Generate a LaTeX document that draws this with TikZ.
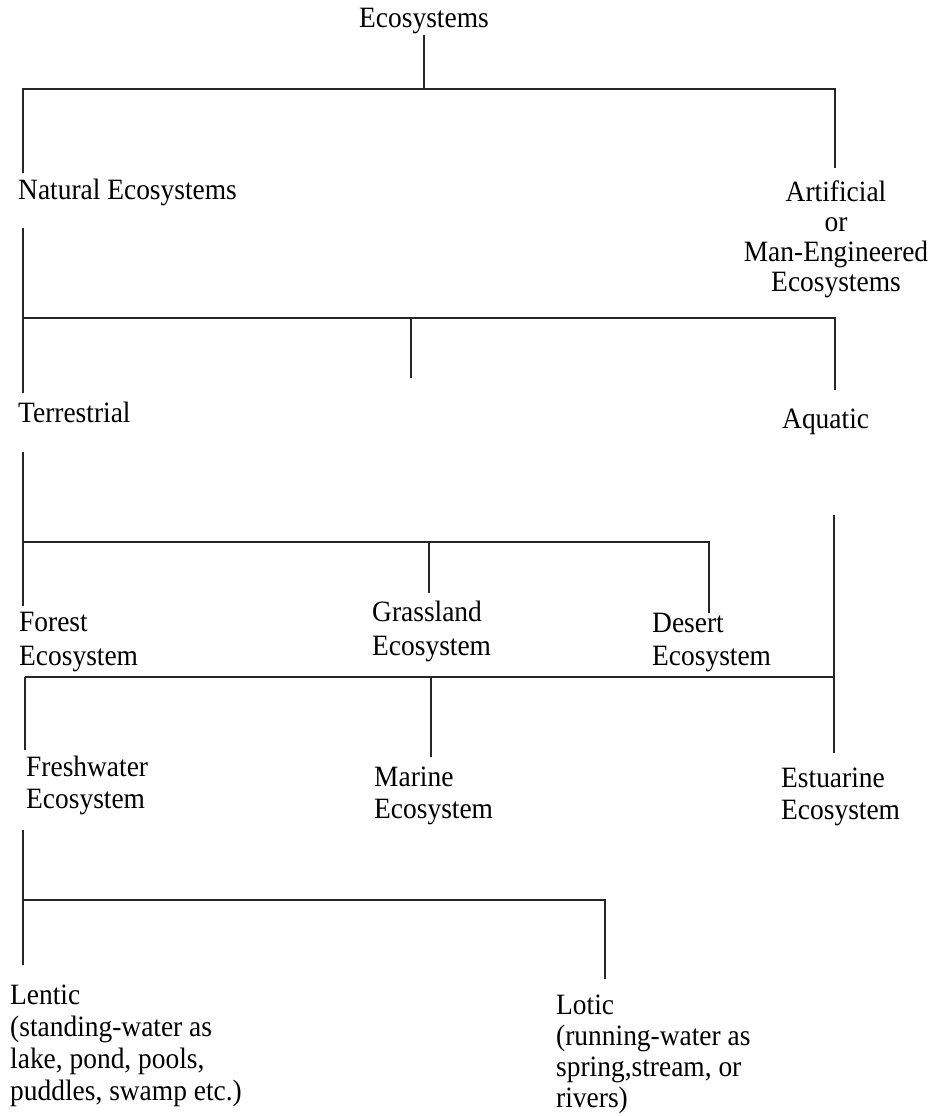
\documentclass[tikz,border=0pt]{standalone}
\usepackage{fontspec}
\setmainfont{Liberation Serif}[FakeStretch=0.93]
\begin{document}
\begin{tikzpicture}[x=1pt,y=-1pt,
  lbl/.style={inner sep=0pt, font=\fontsize{29.5}{#1}\selectfont},
  lbl/.default=31,
  wire/.style={line width=1.3pt, black!85}]
\useasboundingbox (0,0) rectangle (933,1116);

% ---- labels ----
\node[lbl, anchor=base] (eco) at (424,28) {Ecosystems};
\node[lbl, anchor=base west] (nat) at (18,199) {Natural Ecosystems};
\node[lbl=30, anchor=base] (art) at (836,201)
  {\begin{tabular}[t]{@{}c@{}}Artificial\\or\\Man-Engineered\\Ecosystems\end{tabular}};
\node[lbl, anchor=base west] (ter) at (18,422) {Terrestrial};
\node[lbl, anchor=base west] (aqu) at (782,428) {Aquatic};
\node[lbl=34, anchor=base west] (for) at (19,631)
  {\begin{tabular}[t]{@{}l@{}}Forest\\Ecosystem\end{tabular}};
\node[lbl=34, anchor=base west] (gra) at (372,621)
  {\begin{tabular}[t]{@{}l@{}}Grassland\\Ecosystem\end{tabular}};
\node[lbl=33, anchor=base west] (des) at (652,632)
  {\begin{tabular}[t]{@{}l@{}}Desert\\Ecosystem\end{tabular}};
\node[lbl=32, anchor=base west] (fre) at (26,776)
  {\begin{tabular}[t]{@{}l@{}}Freshwater\\Ecosystem\end{tabular}};
\node[lbl=32, anchor=base west] (mar) at (374,786)
  {\begin{tabular}[t]{@{}l@{}}Marine\\Ecosystem\end{tabular}};
\node[lbl=32, anchor=base west] (est) at (781,787)
  {\begin{tabular}[t]{@{}l@{}}Estuarine\\Ecosystem\end{tabular}};
\node[lbl=32, anchor=base west] (len) at (10,1004)
  {\begin{tabular}[t]{@{}l@{}}Lentic\\(standing-water as\\lake, pond, pools,\\puddles, swamp etc.)\end{tabular}};
\node[lbl=31, anchor=base west] (lot) at (556,1014)
  {\begin{tabular}[t]{@{}l@{}}Lotic\\(running-water as\\spring,stream, or\\rivers)\end{tabular}};

% ---- junction and end points of the tree lines ----
\coordinate (h1m) at (424,89);
\coordinate (h1l) at (23,89);
\coordinate (h1r) at (835,89);
\coordinate (natTop) at (23,173);
\coordinate (artTop) at (835,168);
\coordinate (natBot) at (23,228);
\coordinate (terTop) at (23,393);
\coordinate (h2l) at (23,318);
\coordinate (h2m) at (411,318);
\coordinate (h2r) at (835,318);
\coordinate (midEnd) at (411,378);
\coordinate (aqTop) at (835,390);
\coordinate (terBot) at (23,452);
\coordinate (forTop) at (23,606);
\coordinate (h3l) at (23,542);
\coordinate (h3m) at (429,542);
\coordinate (h3r) at (709,542);
\coordinate (graTop) at (429,593);
\coordinate (desTop) at (709,613);
\coordinate (aqBot) at (834,515);
\coordinate (estTop) at (834,753);
\coordinate (h4l) at (25,677);
\coordinate (h4m) at (431,677);
\coordinate (h4r) at (834,677);
\coordinate (fwTop) at (25,750);
\coordinate (marTop) at (431,757);
\coordinate (fwBot) at (23,830);
\coordinate (lenTop) at (23,965);
\coordinate (h5l) at (23,900);
\coordinate (h5r) at (605,900);
\coordinate (lotTop) at (605,979);

% ---- tree lines ----
\draw[wire] (eco.south) -- (h1m);
\draw[wire] (natTop) -- (h1l) -- (h1r) -- (artTop);
\draw[wire] (natBot) -- (terTop);
\draw[wire] (h2l) -- (h2r) -- (aqTop);
\draw[wire] (h2m) -- (midEnd);
\draw[wire] (terBot) -- (forTop);
\draw[wire] (h3l) -- (h3r) -- (desTop);
\draw[wire] (h3m) -- (graTop);
\draw[wire] (aqBot) -- (estTop);
\draw[wire] (h4l) -- (h4r);
\draw[wire] (h4l) -- (fwTop);
\draw[wire] (h4m) -- (marTop);
\draw[wire] (fwBot) -- (lenTop);
\draw[wire] (h5l) -- (h5r) -- (lotTop);
\end{tikzpicture}
\end{document}
